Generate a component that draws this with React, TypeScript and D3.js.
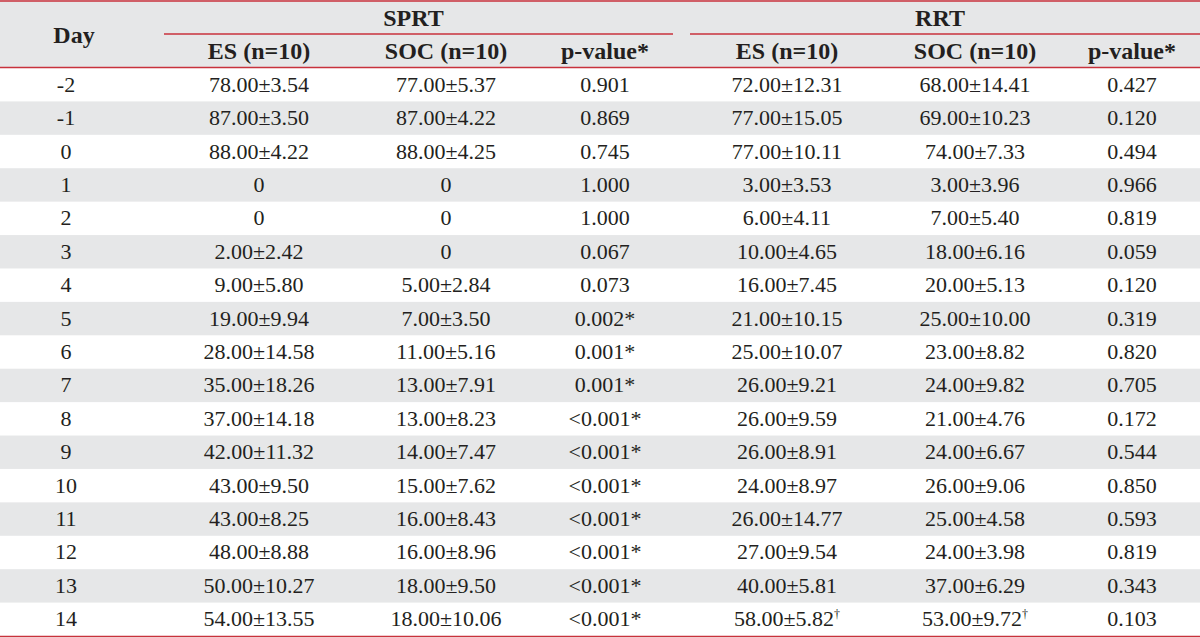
import { useEffect } from 'react'
import * as d3 from 'd3'

const days = ['-2', '-1', '0', '1', '2', '3', '4', '5', '6', '7', '8', '9', '10', '11', '12', '13', '14']
const sprtEs = ['78.00±3.54', '87.00±3.50', '88.00±4.22', '0', '0', '2.00±2.42', '9.00±5.80', '19.00±9.94', '28.00±14.58', '35.00±18.26', '37.00±14.18', '42.00±11.32', '43.00±9.50', '43.00±8.25', '48.00±8.88', '50.00±10.27', '54.00±13.55']
const sprtSoc = ['77.00±5.37', '87.00±4.22', '88.00±4.25', '0', '0', '0', '5.00±2.84', '7.00±3.50', '11.00±5.16', '13.00±7.91', '13.00±8.23', '14.00±7.47', '15.00±7.62', '16.00±8.43', '16.00±8.96', '18.00±9.50', '18.00±10.06']
const sprtP = ['0.901', '0.869', '0.745', '1.000', '1.000', '0.067', '0.073', '0.002*', '0.001*', '0.001*', '<0.001*', '<0.001*', '<0.001*', '<0.001*', '<0.001*', '<0.001*', '<0.001*']
const rrtEs = ['72.00±12.31', '77.00±15.05', '77.00±10.11', '3.00±3.53', '6.00±4.11', '10.00±4.65', '16.00±7.45', '21.00±10.15', '25.00±10.07', '26.00±9.21', '26.00±9.59', '26.00±8.91', '24.00±8.97', '26.00±14.77', '27.00±9.54', '40.00±5.81', '58.00±5.82†']
const rrtSoc = ['68.00±14.41', '69.00±10.23', '74.00±7.33', '3.00±3.96', '7.00±5.40', '18.00±6.16', '20.00±5.13', '25.00±10.00', '23.00±8.82', '24.00±9.82', '21.00±4.76', '24.00±6.67', '26.00±9.06', '25.00±4.58', '24.00±3.98', '37.00±6.29', '53.00±9.72†']
const rrtP = ['0.427', '0.120', '0.494', '0.966', '0.819', '0.059', '0.120', '0.319', '0.820', '0.705', '0.172', '0.544', '0.850', '0.593', '0.819', '0.343', '0.103']

const groups = ['SPRT', 'RRT']
const subHeaders = ['ES (n=10)', 'SOC (n=10)', 'p-value*']
const columnKeys = ['day', 'sprtEs', 'sprtSoc', 'sprtP', 'rrtEs', 'rrtSoc', 'rrtP']

const W = 1200
const H = 638
const RED = '#c8323c'
const GRAY = '#e6e7e8'
const INK = '#231f20'
const FONT = '"Liberation Serif", "DejaVu Serif", serif'

export default function App() {
  useEffect(() => {
    document.body.style.margin = '0'
  }, [])

  const cols: string[][] = [days, sprtEs, sprtSoc, sprtP, rrtEs, rrtSoc, rrtP]

  // column centres
  const x = d3.scaleOrdinal<string, number>()
    .domain(columnKeys)
    .range([66, 259, 446, 605, 787, 975, 1132])

  // group spans (underline under SPRT / RRT)
  const groupX = d3.scaleOrdinal<string, [number, number]>()
    .domain(groups)
    .range([[164, 673], [690, 1200]])

  const y = d3.scaleBand<string>()
    .domain(days)
    .range([68, 636])

  const headerTop = 1
  const headerMid = 34
  const headerBottom = 67.5

  const cellText = (v: string) => {
    if (v.endsWith('†')) {
      return (
        <>
          {v.slice(0, -1)}
          <tspan dy={-8} fontSize={12}>†</tspan>
        </>
      )
    }
    return v
  }

  return (
    <svg width={W} height={H} style={{ display: 'block', position: 'absolute', left: 0, top: 0 }} fontFamily={FONT}>
      <rect x={0} y={0} width={W} height={H} fill="#fff" />
      {/* header background */}
      <rect x={0} y={0} width={W} height={headerBottom} fill={GRAY} />
      {/* striped rows */}
      {days.map((d, i) => i % 2 === 1 && (
        <rect key={d} x={0} y={y(d)} width={W} height={y.bandwidth()} fill={GRAY} />
      ))}

      {/* rules */}
      <line x1={0} x2={W} y1={headerTop} y2={headerTop} stroke={RED} strokeWidth={1.6} />
      {groups.map(g => (
        <line key={g} x1={groupX(g)[0]} x2={groupX(g)[1]} y1={headerMid} y2={headerMid} stroke={RED} strokeWidth={1.6} />
      ))}
      <line x1={0} x2={W} y1={headerBottom} y2={headerBottom} stroke={RED} strokeWidth={1.6} />
      <line x1={0} x2={W} y1={636.5} y2={636.5} stroke={RED} strokeWidth={1.6} />

      {/* header text */}
      <g fill={INK} fontWeight="bold" fontSize={24} textAnchor="middle">
        <text x={x('day') + 8} y={43}>Day</text>
        {groups.map(g => (
          <text key={g} x={(groupX(g)[0] + groupX(g)[1]) / 2 - 5} y={26}>{g}</text>
        ))}
        {columnKeys.slice(1).map((k, i) => (
          <text key={k} x={x(k)} y={59}>{subHeaders[i % 3]}</text>
        ))}
      </g>

      {/* body */}
      <g fill={INK} fontSize={22} textAnchor="middle">
        {days.map((d, r) => (
          <g key={d}>
            {columnKeys.map((k, c) => (
              <text key={k} x={x(k)} y={(y(d) ?? 0) + y.bandwidth() / 2 + 7}>{cellText(cols[c][r])}</text>
            ))}
          </g>
        ))}
      </g>
    </svg>
  )
}
